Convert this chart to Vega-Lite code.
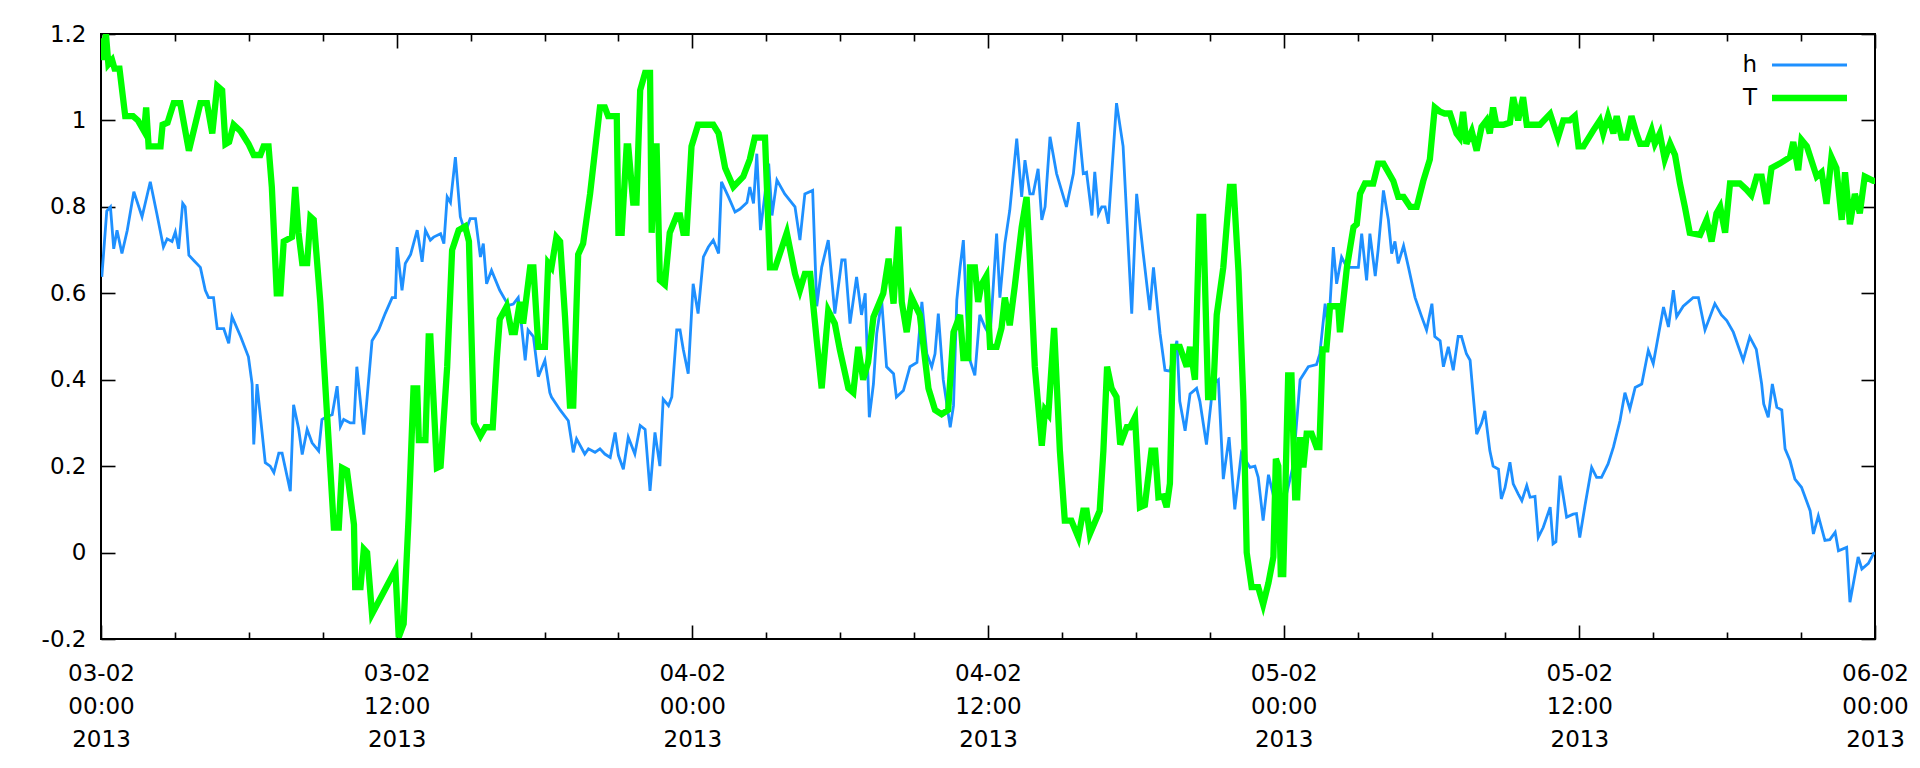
{
"$schema": "https://vega.github.io/schema/vega-lite/v6.json",
"width": 1774, "height": 605,
"autosize": {"type": "none"},
"padding": {"left": 101, "top": 34, "right": 45, "bottom": 129},
"background": "white",
"data": {"values": [
{"s":"h","t":"2013-02-03T00:02","v":0.638},{"s":"h","t":"2013-02-03T00:14","v":0.79},{"s":"h","t":"2013-02-03T00:23","v":0.80},{"s":"h","t":"2013-02-03T00:31","v":0.703},{"s":"h","t":"2013-02-03T00:39","v":0.746},{"s":"h","t":"2013-02-03T00:51","v":0.692},{"s":"h","t":"2013-02-03T01:04","v":0.746},{"s":"h","t":"2013-02-03T01:20","v":0.835},{"s":"h","t":"2013-02-03T01:40","v":0.777},{"s":"h","t":"2013-02-03T02:00","v":0.858},{"s":"h","t":"2013-02-03T02:16","v":0.784},{"s":"h","t":"2013-02-03T02:32","v":0.707},{"s":"h","t":"2013-02-03T02:41","v":0.726},{"s":"h","t":"2013-02-03T02:53","v":0.72},{"s":"h","t":"2013-02-03T03:01","v":0.742},{"s":"h","t":"2013-02-03T03:09","v":0.703},{"s":"h","t":"2013-02-03T03:19","v":0.808},{"s":"h","t":"2013-02-03T03:25","v":0.8},{"s":"h","t":"2013-02-03T03:34","v":0.688},{"s":"h","t":"2013-02-03T03:46","v":0.676},{"s":"h","t":"2013-02-03T04:02","v":0.66},{"s":"h","t":"2013-02-03T04:14","v":0.607},{"s":"h","t":"2013-02-03T04:22","v":0.59},{"s":"h","t":"2013-02-03T04:34","v":0.59},{"s":"h","t":"2013-02-03T04:43","v":0.518},{"s":"h","t":"2013-02-03T04:59","v":0.518},{"s":"h","t":"2013-02-03T05:11","v":0.484},{"s":"h","t":"2013-02-03T05:19","v":0.546},{"s":"h","t":"2013-02-03T05:40","v":0.5},{"s":"h","t":"2013-02-03T05:59","v":0.453},{"s":"h","t":"2013-02-03T06:08","v":0.39},{"s":"h","t":"2013-02-03T06:12","v":0.25},{"s":"h","t":"2013-02-03T06:20","v":0.39},{"s":"h","t":"2013-02-03T06:26","v":0.335},{"s":"h","t":"2013-02-03T06:40","v":0.208},{"s":"h","t":"2013-02-03T06:52","v":0.2},{"s":"h","t":"2013-02-03T07:01","v":0.185},{"s":"h","t":"2013-02-03T07:13","v":0.23},{"s":"h","t":"2013-02-03T07:21","v":0.23},{"s":"h","t":"2013-02-03T07:41","v":0.142},{"s":"h","t":"2013-02-03T07:49","v":0.342},{"s":"h","t":"2013-02-03T08:01","v":0.288},{"s":"h","t":"2013-02-03T08:10","v":0.227},{"s":"h","t":"2013-02-03T08:22","v":0.285},{"s":"h","t":"2013-02-03T08:34","v":0.254},{"s":"h","t":"2013-02-03T08:50","v":0.235},{"s":"h","t":"2013-02-03T08:58","v":0.308},{"s":"h","t":"2013-02-03T09:10","v":0.315},{"s":"h","t":"2013-02-03T09:23","v":0.319},{"s":"h","t":"2013-02-03T09:35","v":0.385},{"s":"h","t":"2013-02-03T09:43","v":0.292},{"s":"h","t":"2013-02-03T09:51","v":0.308},{"s":"h","t":"2013-02-03T10:07","v":0.3},{"s":"h","t":"2013-02-03T10:16","v":0.3},{"s":"h","t":"2013-02-03T10:23","v":0.43},{"s":"h","t":"2013-02-03T10:40","v":0.273},{"s":"h","t":"2013-02-03T10:48","v":0.358},{"s":"h","t":"2013-02-03T11:00","v":0.49},{"s":"h","t":"2013-02-03T11:16","v":0.515},{"s":"h","t":"2013-02-03T11:32","v":0.553},{"s":"h","t":"2013-02-03T11:49","v":0.59},{"s":"h","t":"2013-02-03T11:57","v":0.59},{"s":"h","t":"2013-02-03T12:01","v":0.707},{"s":"h","t":"2013-02-03T12:13","v":0.607},{"s":"h","t":"2013-02-03T12:21","v":0.669},{"s":"h","t":"2013-02-03T12:34","v":0.69},{"s":"h","t":"2013-02-03T12:50","v":0.746},{"s":"h","t":"2013-02-03T13:02","v":0.673},{"s":"h","t":"2013-02-03T13:10","v":0.746},{"s":"h","t":"2013-02-03T13:22","v":0.723},{"s":"h","t":"2013-02-03T13:30","v":0.73},{"s":"h","t":"2013-02-03T13:47","v":0.738},{"s":"h","t":"2013-02-03T13:55","v":0.715},{"s":"h","t":"2013-02-03T14:03","v":0.823},{"s":"h","t":"2013-02-03T14:11","v":0.81},{"s":"h","t":"2013-02-03T14:23","v":0.915},{"s":"h","t":"2013-02-03T14:35","v":0.777},{"s":"h","t":"2013-02-03T14:47","v":0.74},{"s":"h","t":"2013-02-03T14:59","v":0.773},{"s":"h","t":"2013-02-03T15:12","v":0.773},{"s":"h","t":"2013-02-03T15:24","v":0.684},{"s":"h","t":"2013-02-03T15:31","v":0.715},{"s":"h","t":"2013-02-03T15:39","v":0.622},{"s":"h","t":"2013-02-03T15:51","v":0.653},{"s":"h","t":"2013-02-03T16:11","v":0.607},{"s":"h","t":"2013-02-03T16:32","v":0.572},{"s":"h","t":"2013-02-03T16:44","v":0.575},{"s":"h","t":"2013-02-03T16:56","v":0.59},{"s":"h","t":"2013-02-03T17:04","v":0.526},{"s":"h","t":"2013-02-03T17:13","v":0.445},{"s":"h","t":"2013-02-03T17:20","v":0.515},{"s":"h","t":"2013-02-03T17:33","v":0.5},{"s":"h","t":"2013-02-03T17:45","v":0.407},{"s":"h","t":"2013-02-03T18:01","v":0.445},{"s":"h","t":"2013-02-03T18:13","v":0.37},{"s":"h","t":"2013-02-03T18:17","v":0.36},{"s":"h","t":"2013-02-03T18:38","v":0.33},{"s":"h","t":"2013-02-03T18:58","v":0.305},{"s":"h","t":"2013-02-03T19:10","v":0.232},{"s":"h","t":"2013-02-03T19:18","v":0.263},{"s":"h","t":"2013-02-03T19:38","v":0.228},{"s":"h","t":"2013-02-03T19:47","v":0.24},{"s":"h","t":"2013-02-03T20:03","v":0.232},{"s":"h","t":"2013-02-03T20:15","v":0.24},{"s":"h","t":"2013-02-03T20:27","v":0.228},{"s":"h","t":"2013-02-03T20:40","v":0.22},{"s":"h","t":"2013-02-03T20:52","v":0.278},{"s":"h","t":"2013-02-03T21:00","v":0.225},{"s":"h","t":"2013-02-03T21:12","v":0.193},{"s":"h","t":"2013-02-03T21:24","v":0.267},{"s":"h","t":"2013-02-03T21:40","v":0.228},{"s":"h","t":"2013-02-03T21:53","v":0.294},{"s":"h","t":"2013-02-03T22:05","v":0.285},{"s":"h","t":"2013-02-03T22:17","v":0.143},{"s":"h","t":"2013-02-03T22:29","v":0.278},{"s":"h","t":"2013-02-03T22:41","v":0.2},{"s":"h","t":"2013-02-03T22:49","v":0.355},{"s":"h","t":"2013-02-03T23:02","v":0.34},{"s":"h","t":"2013-02-03T23:10","v":0.36},{"s":"h","t":"2013-02-03T23:22","v":0.515},{"s":"h","t":"2013-02-03T23:30","v":0.515},{"s":"h","t":"2013-02-03T23:38","v":0.47},{"s":"h","t":"2013-02-03T23:50","v":0.414},
{"s":"h","t":"2013-02-04T00:02","v":0.622},{"s":"h","t":"2013-02-04T00:14","v":0.553},{"s":"h","t":"2013-02-04T00:27","v":0.684},{"s":"h","t":"2013-02-04T00:39","v":0.707},{"s":"h","t":"2013-02-04T00:51","v":0.723},{"s":"h","t":"2013-02-04T01:04","v":0.692},{"s":"h","t":"2013-02-04T01:11","v":0.858},{"s":"h","t":"2013-02-04T01:28","v":0.823},{"s":"h","t":"2013-02-04T01:44","v":0.788},{"s":"h","t":"2013-02-04T01:56","v":0.795},{"s":"h","t":"2013-02-04T02:13","v":0.81},{"s":"h","t":"2013-02-04T02:20","v":0.846},{"s":"h","t":"2013-02-04T02:29","v":0.808},{"s":"h","t":"2013-02-04T02:37","v":0.923},{"s":"h","t":"2013-02-04T02:46","v":0.746},{"s":"h","t":"2013-02-04T03:06","v":0.9},{"s":"h","t":"2013-02-04T03:14","v":0.78},{"s":"h","t":"2013-02-04T03:26","v":0.862},{"s":"h","t":"2013-02-04T03:45","v":0.83},{"s":"h","t":"2013-02-04T04:10","v":0.8},{"s":"h","t":"2013-02-04T04:22","v":0.723},{"s":"h","t":"2013-02-04T04:34","v":0.83},{"s":"h","t":"2013-02-04T04:53","v":0.838},{"s":"h","t":"2013-02-04T05:03","v":0.57},{"s":"h","t":"2013-02-04T05:15","v":0.66},{"s":"h","t":"2013-02-04T05:31","v":0.723},{"s":"h","t":"2013-02-04T05:47","v":0.553},{"s":"h","t":"2013-02-04T06:04","v":0.677},{"s":"h","t":"2013-02-04T06:12","v":0.677},{"s":"h","t":"2013-02-04T06:24","v":0.53},{"s":"h","t":"2013-02-04T06:40","v":0.638},{"s":"h","t":"2013-02-04T06:52","v":0.55},{"s":"h","t":"2013-02-04T07:01","v":0.6},{"s":"h","t":"2013-02-04T07:11","v":0.313},{"s":"h","t":"2013-02-04T07:21","v":0.39},{"s":"h","t":"2013-02-04T07:29","v":0.507},{"s":"h","t":"2013-02-04T07:41","v":0.584},{"s":"h","t":"2013-02-04T07:53","v":0.43},{"s":"h","t":"2013-02-04T08:10","v":0.414},{"s":"h","t":"2013-02-04T08:17","v":0.36},{"s":"h","t":"2013-02-04T08:34","v":0.375},{"s":"h","t":"2013-02-04T08:50","v":0.43},{"s":"h","t":"2013-02-04T09:07","v":0.44},{"s":"h","t":"2013-02-04T09:19","v":0.58},{"s":"h","t":"2013-02-04T09:31","v":0.46},{"s":"h","t":"2013-02-04T09:43","v":0.43},{"s":"h","t":"2013-02-04T09:51","v":0.46},{"s":"h","t":"2013-02-04T09:59","v":0.553},{"s":"h","t":"2013-02-04T10:11","v":0.4},{"s":"h","t":"2013-02-04T10:28","v":0.29},{"s":"h","t":"2013-02-04T10:36","v":0.34},{"s":"h","t":"2013-02-04T10:44","v":0.584},{"s":"h","t":"2013-02-04T10:52","v":0.66},{"s":"h","t":"2013-02-04T11:00","v":0.723},{"s":"h","t":"2013-02-04T11:08","v":0.55},{"s":"h","t":"2013-02-04T11:16","v":0.445},{"s":"h","t":"2013-02-04T11:28","v":0.41},{"s":"h","t":"2013-02-04T11:40","v":0.55},{"s":"h","t":"2013-02-04T11:52","v":0.523},{"s":"h","t":"2013-02-04T12:05","v":0.5},{"s":"h","t":"2013-02-04T12:21","v":0.738},{"s":"h","t":"2013-02-04T12:29","v":0.59},{"s":"h","t":"2013-02-04T12:41","v":0.715},{"s":"h","t":"2013-02-04T12:53","v":0.792},{"s":"h","t":"2013-02-04T13:10","v":0.958},{"s":"h","t":"2013-02-04T13:22","v":0.823},{"s":"h","t":"2013-02-04T13:30","v":0.908},{"s":"h","t":"2013-02-04T13:42","v":0.83},{"s":"h","t":"2013-02-04T13:50","v":0.83},{"s":"h","t":"2013-02-04T14:02","v":0.888},{"s":"h","t":"2013-02-04T14:11","v":0.77},{"s":"h","t":"2013-02-04T14:19","v":0.8},{"s":"h","t":"2013-02-04T14:31","v":0.962},{"s":"h","t":"2013-02-04T14:47","v":0.877},{"s":"h","t":"2013-02-04T15:11","v":0.8},{"s":"h","t":"2013-02-04T15:28","v":0.877},{"s":"h","t":"2013-02-04T15:40","v":0.996},{"s":"h","t":"2013-02-04T15:52","v":0.877},{"s":"h","t":"2013-02-04T16:00","v":0.88},{"s":"h","t":"2013-02-04T16:13","v":0.78},{"s":"h","t":"2013-02-04T16:20","v":0.881},{"s":"h","t":"2013-02-04T16:29","v":0.784},{"s":"h","t":"2013-02-04T16:37","v":0.8},{"s":"h","t":"2013-02-04T16:45","v":0.8},{"s":"h","t":"2013-02-04T16:53","v":0.761},{"s":"h","t":"2013-02-04T17:13","v":1.04},{"s":"h","t":"2013-02-04T17:29","v":0.94},{"s":"h","t":"2013-02-04T17:50","v":0.553},{"s":"h","t":"2013-02-04T18:02","v":0.83},{"s":"h","t":"2013-02-04T18:18","v":0.692},{"s":"h","t":"2013-02-04T18:34","v":0.561},{"s":"h","t":"2013-02-04T18:43","v":0.66},{"s":"h","t":"2013-02-04T18:59","v":0.507},{"s":"h","t":"2013-02-04T19:11","v":0.422},{"s":"h","t":"2013-02-04T19:23","v":0.42},{"s":"h","t":"2013-02-04T19:40","v":0.49},{"s":"h","t":"2013-02-04T19:47","v":0.35},{"s":"h","t":"2013-02-04T20:00","v":0.282},{"s":"h","t":"2013-02-04T20:12","v":0.367},{"s":"h","t":"2013-02-04T20:28","v":0.38},{"s":"h","t":"2013-02-04T20:36","v":0.35},{"s":"h","t":"2013-02-04T20:52","v":0.25},{"s":"h","t":"2013-02-04T21:08","v":0.39},{"s":"h","t":"2013-02-04T21:21","v":0.4},{"s":"h","t":"2013-02-04T21:33","v":0.17},{"s":"h","t":"2013-02-04T21:47","v":0.267},{"s":"h","t":"2013-02-04T22:01","v":0.1},{"s":"h","t":"2013-02-04T22:17","v":0.23},{"s":"h","t":"2013-02-04T22:38","v":0.197},{"s":"h","t":"2013-02-04T22:50","v":0.2},{"s":"h","t":"2013-02-04T22:58","v":0.174},{"s":"h","t":"2013-02-04T23:10","v":0.074},{"s":"h","t":"2013-02-04T23:23","v":0.18},{"s":"h","t":"2013-02-04T23:43","v":0.1},
{"s":"h","t":"2013-02-05T00:03","v":0.12},{"s":"h","t":"2013-02-05T00:23","v":0.2},{"s":"h","t":"2013-02-05T00:40","v":0.4},{"s":"h","t":"2013-02-05T01:00","v":0.43},{"s":"h","t":"2013-02-05T01:20","v":0.435},{"s":"h","t":"2013-02-05T01:28","v":0.46},{"s":"h","t":"2013-02-05T01:41","v":0.576},{"s":"h","t":"2013-02-05T01:49","v":0.51},{"s":"h","t":"2013-02-05T02:01","v":0.707},{"s":"h","t":"2013-02-05T02:09","v":0.622},{"s":"h","t":"2013-02-05T02:21","v":0.684},{"s":"h","t":"2013-02-05T02:34","v":0.66},{"s":"h","t":"2013-02-05T03:02","v":0.66},{"s":"h","t":"2013-02-05T03:10","v":0.738},{"s":"h","t":"2013-02-05T03:22","v":0.63},{"s":"h","t":"2013-02-05T03:30","v":0.738},{"s":"h","t":"2013-02-05T03:43","v":0.64},{"s":"h","t":"2013-02-05T03:50","v":0.7},{"s":"h","t":"2013-02-05T04:03","v":0.838},{"s":"h","t":"2013-02-05T04:15","v":0.77},{"s":"h","t":"2013-02-05T04:23","v":0.692},{"s":"h","t":"2013-02-05T04:31","v":0.72},{"s":"h","t":"2013-02-05T04:39","v":0.669},{"s":"h","t":"2013-02-05T04:52","v":0.71},{"s":"h","t":"2013-02-05T05:04","v":0.66},{"s":"h","t":"2013-02-05T05:20","v":0.59},{"s":"h","t":"2013-02-05T05:36","v":0.546},{"s":"h","t":"2013-02-05T05:48","v":0.515},{"s":"h","t":"2013-02-05T06:01","v":0.576},{"s":"h","t":"2013-02-05T06:08","v":0.5},{"s":"h","t":"2013-02-05T06:21","v":0.49},{"s":"h","t":"2013-02-05T06:29","v":0.43},{"s":"h","t":"2013-02-05T06:41","v":0.476},{"s":"h","t":"2013-02-05T06:53","v":0.422},{"s":"h","t":"2013-02-05T07:05","v":0.5},{"s":"h","t":"2013-02-05T07:13","v":0.5},{"s":"h","t":"2013-02-05T07:25","v":0.46},{"s":"h","t":"2013-02-05T07:34","v":0.445},{"s":"h","t":"2013-02-05T07:40","v":0.38},{"s":"h","t":"2013-02-05T07:50","v":0.274},{"s":"h","t":"2013-02-05T08:02","v":0.3},{"s":"h","t":"2013-02-05T08:10","v":0.328},{"s":"h","t":"2013-02-05T08:22","v":0.236},{"s":"h","t":"2013-02-05T08:30","v":0.2},{"s":"h","t":"2013-02-05T08:43","v":0.193},{"s":"h","t":"2013-02-05T08:50","v":0.124},{"s":"h","t":"2013-02-05T08:59","v":0.15},{"s":"h","t":"2013-02-05T09:11","v":0.209},{"s":"h","t":"2013-02-05T09:19","v":0.159},{"s":"h","t":"2013-02-05T09:31","v":0.136},{"s":"h","t":"2013-02-05T09:40","v":0.12},{"s":"h","t":"2013-02-05T09:52","v":0.155},{"s":"h","t":"2013-02-05T10:00","v":0.128},{"s":"h","t":"2013-02-05T10:12","v":0.13},{"s":"h","t":"2013-02-05T10:20","v":0.035},{"s":"h","t":"2013-02-05T10:32","v":0.058},{"s":"h","t":"2013-02-05T10:49","v":0.105},{"s":"h","t":"2013-02-05T10:56","v":0.02},{"s":"h","t":"2013-02-05T11:03","v":0.025},{"s":"h","t":"2013-02-05T11:13","v":0.178},{"s":"h","t":"2013-02-05T11:29","v":0.082},{"s":"h","t":"2013-02-05T11:45","v":0.089},{"s":"h","t":"2013-02-05T11:53","v":0.09},{"s":"h","t":"2013-02-05T12:01","v":0.035},{"s":"h","t":"2013-02-05T12:14","v":0.11},{"s":"h","t":"2013-02-05T12:30","v":0.197},{"s":"h","t":"2013-02-05T12:42","v":0.174},{"s":"h","t":"2013-02-05T12:54","v":0.174},{"s":"h","t":"2013-02-05T13:10","v":0.205},{"s":"h","t":"2013-02-05T13:23","v":0.244},{"s":"h","t":"2013-02-05T13:39","v":0.305},{"s":"h","t":"2013-02-05T13:51","v":0.37},{"s":"h","t":"2013-02-05T14:03","v":0.332},{"s":"h","t":"2013-02-05T14:16","v":0.382},{"s":"h","t":"2013-02-05T14:32","v":0.39},{"s":"h","t":"2013-02-05T14:48","v":0.468},{"s":"h","t":"2013-02-05T15:00","v":0.437},{"s":"h","t":"2013-02-05T15:12","v":0.5},{"s":"h","t":"2013-02-05T15:25","v":0.568},{"s":"h","t":"2013-02-05T15:37","v":0.522},{"s":"h","t":"2013-02-05T15:49","v":0.607},{"s":"h","t":"2013-02-05T15:57","v":0.546},{"s":"h","t":"2013-02-05T16:13","v":0.57},{"s":"h","t":"2013-02-05T16:37","v":0.59},{"s":"h","t":"2013-02-05T16:50","v":0.59},{"s":"h","t":"2013-02-05T17:06","v":0.515},{"s":"h","t":"2013-02-05T17:30","v":0.576},{"s":"h","t":"2013-02-05T17:46","v":0.55},{"s":"h","t":"2013-02-05T17:59","v":0.537},{"s":"h","t":"2013-02-05T18:15","v":0.51},{"s":"h","t":"2013-02-05T18:39","v":0.445},{"s":"h","t":"2013-02-05T18:55","v":0.499},{"s":"h","t":"2013-02-05T19:11","v":0.47},{"s":"h","t":"2013-02-05T19:24","v":0.39},{"s":"h","t":"2013-02-05T19:29","v":0.344},{"s":"h","t":"2013-02-05T19:40","v":0.313},{"s":"h","t":"2013-02-05T19:50","v":0.39},{"s":"h","t":"2013-02-05T20:01","v":0.336},{"s":"h","t":"2013-02-05T20:13","v":0.33},{"s":"h","t":"2013-02-05T20:21","v":0.24},{"s":"h","t":"2013-02-05T20:33","v":0.213},{"s":"h","t":"2013-02-05T20:45","v":0.17},{"s":"h","t":"2013-02-05T21:01","v":0.151},{"s":"h","t":"2013-02-05T21:22","v":0.097},{"s":"h","t":"2013-02-05T21:30","v":0.043},{"s":"h","t":"2013-02-05T21:42","v":0.085},{"s":"h","t":"2013-02-05T21:58","v":0.028},{"s":"h","t":"2013-02-05T22:10","v":0.03},{"s":"h","t":"2013-02-05T22:23","v":0.047},{"s":"h","t":"2013-02-05T22:31","v":0.004},{"s":"h","t":"2013-02-05T22:51","v":0.012},{"s":"h","t":"2013-02-05T22:59","v":-0.115},{"s":"h","t":"2013-02-05T23:19","v":-0.01},{"s":"h","t":"2013-02-05T23:28","v":-0.038},{"s":"h","t":"2013-02-05T23:44","v":-0.025},{"s":"h","t":"2013-02-05T23:56","v":-0.003},{"s":"h","t":"2013-02-06T00:00","v":0.0},
{"s":"T","t":"2013-02-03T00:00","v":1.19},{"s":"T","t":"2013-02-03T00:06","v":1.14},{"s":"T","t":"2013-02-03T00:12","v":1.2},{"s":"T","t":"2013-02-03T00:18","v":1.13},{"s":"T","t":"2013-02-03T00:27","v":1.14},{"s":"T","t":"2013-02-03T00:33","v":1.12},{"s":"T","t":"2013-02-03T00:45","v":1.12},{"s":"T","t":"2013-02-03T00:59","v":1.01},{"s":"T","t":"2013-02-03T01:18","v":1.01},{"s":"T","t":"2013-02-03T01:30","v":1.0},{"s":"T","t":"2013-02-03T01:45","v":0.975},{"s":"T","t":"2013-02-03T01:50","v":1.03},{"s":"T","t":"2013-02-03T01:56","v":0.94},{"s":"T","t":"2013-02-03T02:25","v":0.94},{"s":"T","t":"2013-02-03T02:30","v":0.99},{"s":"T","t":"2013-02-03T02:42","v":0.995},{"s":"T","t":"2013-02-03T02:57","v":1.04},{"s":"T","t":"2013-02-03T03:13","v":1.04},{"s":"T","t":"2013-02-03T03:34","v":0.93},{"s":"T","t":"2013-02-03T04:02","v":1.04},{"s":"T","t":"2013-02-03T04:18","v":1.04},{"s":"T","t":"2013-02-03T04:31","v":0.97},{"s":"T","t":"2013-02-03T04:43","v":1.08},{"s":"T","t":"2013-02-03T04:55","v":1.07},{"s":"T","t":"2013-02-03T05:03","v":0.945},{"s":"T","t":"2013-02-03T05:12","v":0.95},{"s":"T","t":"2013-02-03T05:23","v":0.99},{"s":"T","t":"2013-02-03T05:40","v":0.975},{"s":"T","t":"2013-02-03T05:59","v":0.946},{"s":"T","t":"2013-02-03T06:12","v":0.92},{"s":"T","t":"2013-02-03T06:28","v":0.92},{"s":"T","t":"2013-02-03T06:36","v":0.94},{"s":"T","t":"2013-02-03T06:48","v":0.94},{"s":"T","t":"2013-02-03T06:56","v":0.846},{"s":"T","t":"2013-02-03T07:08","v":0.6},{"s":"T","t":"2013-02-03T07:17","v":0.6},{"s":"T","t":"2013-02-03T07:25","v":0.72},{"s":"T","t":"2013-02-03T07:45","v":0.73},{"s":"T","t":"2013-02-03T07:53","v":0.846},{"s":"T","t":"2013-02-03T08:01","v":0.74},{"s":"T","t":"2013-02-03T08:10","v":0.67},{"s":"T","t":"2013-02-03T08:22","v":0.67},{"s":"T","t":"2013-02-03T08:30","v":0.777},{"s":"T","t":"2013-02-03T08:38","v":0.77},{"s":"T","t":"2013-02-03T08:54","v":0.58},{"s":"T","t":"2013-02-03T09:27","v":0.058},{"s":"T","t":"2013-02-03T09:39","v":0.058},{"s":"T","t":"2013-02-03T09:47","v":0.196},{"s":"T","t":"2013-02-03T09:59","v":0.19},{"s":"T","t":"2013-02-03T10:16","v":0.065},{"s":"T","t":"2013-02-03T10:19","v":-0.08},{"s":"T","t":"2013-02-03T10:32","v":-0.08},{"s":"T","t":"2013-02-03T10:40","v":0.008},{"s":"T","t":"2013-02-03T10:48","v":0.0},{"s":"T","t":"2013-02-03T11:00","v":-0.142},{"s":"T","t":"2013-02-03T11:57","v":-0.04},{"s":"T","t":"2013-02-03T12:05","v":-0.196},{"s":"T","t":"2013-02-03T12:17","v":-0.165},{"s":"T","t":"2013-02-03T12:29","v":0.08},{"s":"T","t":"2013-02-03T12:41","v":0.38},{"s":"T","t":"2013-02-03T12:50","v":0.38},{"s":"T","t":"2013-02-03T12:54","v":0.26},{"s":"T","t":"2013-02-03T13:10","v":0.26},{"s":"T","t":"2013-02-03T13:18","v":0.5},{"s":"T","t":"2013-02-03T13:22","v":0.5},{"s":"T","t":"2013-02-03T13:38","v":0.196},{"s":"T","t":"2013-02-03T13:47","v":0.2},{"s":"T","t":"2013-02-03T14:03","v":0.43},{"s":"T","t":"2013-02-03T14:15","v":0.7},{"s":"T","t":"2013-02-03T14:31","v":0.746},{"s":"T","t":"2013-02-03T14:47","v":0.755},{"s":"T","t":"2013-02-03T14:56","v":0.72},{"s":"T","t":"2013-02-03T15:08","v":0.3},{"s":"T","t":"2013-02-03T15:24","v":0.27},{"s":"T","t":"2013-02-03T15:36","v":0.29},{"s":"T","t":"2013-02-03T15:54","v":0.29},{"s":"T","t":"2013-02-03T16:04","v":0.45},{"s":"T","t":"2013-02-03T16:11","v":0.54},{"s":"T","t":"2013-02-03T16:28","v":0.57},{"s":"T","t":"2013-02-03T16:40","v":0.51},{"s":"T","t":"2013-02-03T16:48","v":0.51},{"s":"T","t":"2013-02-03T17:00","v":0.58},{"s":"T","t":"2013-02-03T17:08","v":0.53},{"s":"T","t":"2013-02-03T17:25","v":0.66},{"s":"T","t":"2013-02-03T17:33","v":0.66},{"s":"T","t":"2013-02-03T17:45","v":0.476},{"s":"T","t":"2013-02-03T18:01","v":0.476},{"s":"T","t":"2013-02-03T18:09","v":0.67},{"s":"T","t":"2013-02-03T18:17","v":0.66},{"s":"T","t":"2013-02-03T18:29","v":0.73},{"s":"T","t":"2013-02-03T18:38","v":0.72},{"s":"T","t":"2013-02-03T18:50","v":0.545},{"s":"T","t":"2013-02-03T19:02","v":0.34},{"s":"T","t":"2013-02-03T19:10","v":0.34},{"s":"T","t":"2013-02-03T19:22","v":0.69},{"s":"T","t":"2013-02-03T19:34","v":0.715},{"s":"T","t":"2013-02-03T19:51","v":0.83},{"s":"T","t":"2013-02-03T20:15","v":1.03},{"s":"T","t":"2013-02-03T20:27","v":1.03},{"s":"T","t":"2013-02-03T20:35","v":1.01},{"s":"T","t":"2013-02-03T20:56","v":1.01},{"s":"T","t":"2013-02-03T21:00","v":0.74},{"s":"T","t":"2013-02-03T21:08","v":0.74},{"s":"T","t":"2013-02-03T21:20","v":0.94},{"s":"T","t":"2013-02-03T21:24","v":0.94},{"s":"T","t":"2013-02-03T21:36","v":0.81},{"s":"T","t":"2013-02-03T21:44","v":0.81},{"s":"T","t":"2013-02-03T21:53","v":1.07},{"s":"T","t":"2013-02-03T22:05","v":1.11},{"s":"T","t":"2013-02-03T22:17","v":1.11},{"s":"T","t":"2013-02-03T22:21","v":0.74},{"s":"T","t":"2013-02-03T22:29","v":0.94},{"s":"T","t":"2013-02-03T22:33","v":0.94},{"s":"T","t":"2013-02-03T22:41","v":0.63},{"s":"T","t":"2013-02-03T22:53","v":0.62},{"s":"T","t":"2013-02-03T23:05","v":0.74},{"s":"T","t":"2013-02-03T23:22","v":0.78},{"s":"T","t":"2013-02-03T23:30","v":0.78},{"s":"T","t":"2013-02-03T23:38","v":0.74},{"s":"T","t":"2013-02-03T23:46","v":0.74},{"s":"T","t":"2013-02-03T23:58","v":0.94},
{"s":"T","t":"2013-02-04T00:14","v":0.99},{"s":"T","t":"2013-02-04T00:51","v":0.99},{"s":"T","t":"2013-02-04T01:04","v":0.97},{"s":"T","t":"2013-02-04T01:20","v":0.89},{"s":"T","t":"2013-02-04T01:40","v":0.846},{"s":"T","t":"2013-02-04T02:04","v":0.87},{"s":"T","t":"2013-02-04T02:20","v":0.91},{"s":"T","t":"2013-02-04T02:32","v":0.96},{"s":"T","t":"2013-02-04T02:57","v":0.96},{"s":"T","t":"2013-02-04T03:09","v":0.66},{"s":"T","t":"2013-02-04T03:22","v":0.66},{"s":"T","t":"2013-02-04T03:50","v":0.74},{"s":"T","t":"2013-02-04T04:10","v":0.645},{"s":"T","t":"2013-02-04T04:22","v":0.607},{"s":"T","t":"2013-02-04T04:34","v":0.645},{"s":"T","t":"2013-02-04T04:47","v":0.645},{"s":"T","t":"2013-02-04T05:03","v":0.49},{"s":"T","t":"2013-02-04T05:15","v":0.38},{"s":"T","t":"2013-02-04T05:31","v":0.56},{"s":"T","t":"2013-02-04T05:47","v":0.53},{"s":"T","t":"2013-02-04T05:59","v":0.47},{"s":"T","t":"2013-02-04T06:20","v":0.38},{"s":"T","t":"2013-02-04T06:32","v":0.37},{"s":"T","t":"2013-02-04T06:44","v":0.476},{"s":"T","t":"2013-02-04T06:56","v":0.4},{"s":"T","t":"2013-02-04T07:08","v":0.44},{"s":"T","t":"2013-02-04T07:21","v":0.545},{"s":"T","t":"2013-02-04T07:45","v":0.6},{"s":"T","t":"2013-02-04T07:58","v":0.68},{"s":"T","t":"2013-02-04T08:10","v":0.576},{"s":"T","t":"2013-02-04T08:22","v":0.754},{"s":"T","t":"2013-02-04T08:30","v":0.58},{"s":"T","t":"2013-02-04T08:42","v":0.51},{"s":"T","t":"2013-02-04T08:54","v":0.59},{"s":"T","t":"2013-02-04T09:14","v":0.55},{"s":"T","t":"2013-02-04T09:35","v":0.38},{"s":"T","t":"2013-02-04T09:51","v":0.33},{"s":"T","t":"2013-02-04T10:07","v":0.32},{"s":"T","t":"2013-02-04T10:23","v":0.33},{"s":"T","t":"2013-02-04T10:36","v":0.51},{"s":"T","t":"2013-02-04T10:52","v":0.55},{"s":"T","t":"2013-02-04T11:00","v":0.45},{"s":"T","t":"2013-02-04T11:12","v":0.45},{"s":"T","t":"2013-02-04T11:16","v":0.66},{"s":"T","t":"2013-02-04T11:28","v":0.66},{"s":"T","t":"2013-02-04T11:36","v":0.58},{"s":"T","t":"2013-02-04T11:44","v":0.62},{"s":"T","t":"2013-02-04T11:56","v":0.64},{"s":"T","t":"2013-02-04T12:05","v":0.476},{"s":"T","t":"2013-02-04T12:21","v":0.476},{"s":"T","t":"2013-02-04T12:33","v":0.52},{"s":"T","t":"2013-02-04T12:41","v":0.59},{"s":"T","t":"2013-02-04T12:53","v":0.526},{"s":"T","t":"2013-02-04T13:05","v":0.615},{"s":"T","t":"2013-02-04T13:22","v":0.753},{"s":"T","t":"2013-02-04T13:34","v":0.823},{"s":"T","t":"2013-02-04T13:42","v":0.68},{"s":"T","t":"2013-02-04T13:54","v":0.43},{"s":"T","t":"2013-02-04T14:11","v":0.247},{"s":"T","t":"2013-02-04T14:19","v":0.33},{"s":"T","t":"2013-02-04T14:27","v":0.32},{"s":"T","t":"2013-02-04T14:41","v":0.52},{"s":"T","t":"2013-02-04T14:55","v":0.236},{"s":"T","t":"2013-02-04T15:07","v":0.074},{"s":"T","t":"2013-02-04T15:23","v":0.074},{"s":"T","t":"2013-02-04T15:40","v":0.035},{"s":"T","t":"2013-02-04T15:52","v":0.097},{"s":"T","t":"2013-02-04T16:00","v":0.097},{"s":"T","t":"2013-02-04T16:08","v":0.043},{"s":"T","t":"2013-02-04T16:32","v":0.097},{"s":"T","t":"2013-02-04T16:41","v":0.236},{"s":"T","t":"2013-02-04T16:50","v":0.43},{"s":"T","t":"2013-02-04T17:01","v":0.38},{"s":"T","t":"2013-02-04T17:13","v":0.36},{"s":"T","t":"2013-02-04T17:22","v":0.25},{"s":"T","t":"2013-02-04T17:38","v":0.29},{"s":"T","t":"2013-02-04T17:46","v":0.29},{"s":"T","t":"2013-02-04T17:58","v":0.313},{"s":"T","t":"2013-02-04T18:10","v":0.105},{"s":"T","t":"2013-02-04T18:22","v":0.11},{"s":"T","t":"2013-02-04T18:38","v":0.236},{"s":"T","t":"2013-02-04T18:47","v":0.236},{"s":"T","t":"2013-02-04T18:55","v":0.128},{"s":"T","t":"2013-02-04T19:07","v":0.13},{"s":"T","t":"2013-02-04T19:15","v":0.105},{"s":"T","t":"2013-02-04T19:23","v":0.16},{"s":"T","t":"2013-02-04T19:31","v":0.476},{"s":"T","t":"2013-02-04T19:47","v":0.476},{"s":"T","t":"2013-02-04T20:04","v":0.43},{"s":"T","t":"2013-02-04T20:12","v":0.476},{"s":"T","t":"2013-02-04T20:24","v":0.4},{"s":"T","t":"2013-02-04T20:35","v":0.777},{"s":"T","t":"2013-02-04T20:44","v":0.777},{"s":"T","t":"2013-02-04T20:56","v":0.36},{"s":"T","t":"2013-02-04T21:08","v":0.36},{"s":"T","t":"2013-02-04T21:17","v":0.55},{"s":"T","t":"2013-02-04T21:33","v":0.66},{"s":"T","t":"2013-02-04T21:49","v":0.846},{"s":"T","t":"2013-02-04T21:58","v":0.846},{"s":"T","t":"2013-02-04T22:10","v":0.65},{"s":"T","t":"2013-02-04T22:22","v":0.35},{"s":"T","t":"2013-02-04T22:30","v":0.0},{"s":"T","t":"2013-02-04T22:42","v":-0.08},{"s":"T","t":"2013-02-04T22:58","v":-0.08},{"s":"T","t":"2013-02-04T23:10","v":-0.12},{"s":"T","t":"2013-02-04T23:23","v":-0.07},{"s":"T","t":"2013-02-04T23:35","v":-0.01},{"s":"T","t":"2013-02-04T23:41","v":0.217},{"s":"T","t":"2013-02-04T23:47","v":0.2},{"s":"T","t":"2013-02-04T23:53","v":-0.05},{"s":"T","t":"2013-02-04T23:59","v":-0.05},
{"s":"T","t":"2013-02-05T00:11","v":0.41},{"s":"T","t":"2013-02-05T00:19","v":0.41},{"s":"T","t":"2013-02-05T00:28","v":0.128},{"s":"T","t":"2013-02-05T00:33","v":0.128},{"s":"T","t":"2013-02-05T00:40","v":0.267},{"s":"T","t":"2013-02-05T00:48","v":0.197},{"s":"T","t":"2013-02-05T00:56","v":0.275},{"s":"T","t":"2013-02-05T01:08","v":0.275},{"s":"T","t":"2013-02-05T01:20","v":0.244},{"s":"T","t":"2013-02-05T01:27","v":0.244},{"s":"T","t":"2013-02-05T01:35","v":0.47},{"s":"T","t":"2013-02-05T01:44","v":0.47},{"s":"T","t":"2013-02-05T01:53","v":0.57},{"s":"T","t":"2013-02-05T02:13","v":0.57},{"s":"T","t":"2013-02-05T02:17","v":0.51},{"s":"T","t":"2013-02-05T02:34","v":0.66},{"s":"T","t":"2013-02-05T02:50","v":0.753},{"s":"T","t":"2013-02-05T02:58","v":0.76},{"s":"T","t":"2013-02-05T03:06","v":0.83},{"s":"T","t":"2013-02-05T03:18","v":0.854},{"s":"T","t":"2013-02-05T03:38","v":0.854},{"s":"T","t":"2013-02-05T03:50","v":0.9},{"s":"T","t":"2013-02-05T04:03","v":0.9},{"s":"T","t":"2013-02-05T04:27","v":0.86},{"s":"T","t":"2013-02-05T04:39","v":0.823},{"s":"T","t":"2013-02-05T04:52","v":0.823},{"s":"T","t":"2013-02-05T05:08","v":0.8},{"s":"T","t":"2013-02-05T05:24","v":0.8},{"s":"T","t":"2013-02-05T05:40","v":0.86},{"s":"T","t":"2013-02-05T05:56","v":0.91},{"s":"T","t":"2013-02-05T06:08","v":1.03},{"s":"T","t":"2013-02-05T06:21","v":1.02},{"s":"T","t":"2013-02-05T06:32","v":1.016},{"s":"T","t":"2013-02-05T06:45","v":1.016},{"s":"T","t":"2013-02-05T07:01","v":0.97},{"s":"T","t":"2013-02-05T07:09","v":0.96},{"s":"T","t":"2013-02-05T07:17","v":1.02},{"s":"T","t":"2013-02-05T07:25","v":0.946},{"s":"T","t":"2013-02-05T07:38","v":0.975},{"s":"T","t":"2013-02-05T07:50","v":0.93},{"s":"T","t":"2013-02-05T08:02","v":0.985},{"s":"T","t":"2013-02-05T08:14","v":1.0},{"s":"T","t":"2013-02-05T08:22","v":0.97},{"s":"T","t":"2013-02-05T08:30","v":1.03},{"s":"T","t":"2013-02-05T08:38","v":0.99},{"s":"T","t":"2013-02-05T08:55","v":0.99},{"s":"T","t":"2013-02-05T09:11","v":0.995},{"s":"T","t":"2013-02-05T09:19","v":1.054},{"s":"T","t":"2013-02-05T09:31","v":1.0},{"s":"T","t":"2013-02-05T09:43","v":1.054},{"s":"T","t":"2013-02-05T09:52","v":0.99},{"s":"T","t":"2013-02-05T10:24","v":0.99},{"s":"T","t":"2013-02-05T10:49","v":1.015},{"s":"T","t":"2013-02-05T11:08","v":0.96},{"s":"T","t":"2013-02-05T11:21","v":1.0},{"s":"T","t":"2013-02-05T11:37","v":1.0},{"s":"T","t":"2013-02-05T11:49","v":1.01},{"s":"T","t":"2013-02-05T11:58","v":0.94},{"s":"T","t":"2013-02-05T12:10","v":0.94},{"s":"T","t":"2013-02-05T12:34","v":0.977},{"s":"T","t":"2013-02-05T12:50","v":1.0},{"s":"T","t":"2013-02-05T12:58","v":0.97},{"s":"T","t":"2013-02-05T13:10","v":1.01},{"s":"T","t":"2013-02-05T13:23","v":0.97},{"s":"T","t":"2013-02-05T13:31","v":1.01},{"s":"T","t":"2013-02-05T13:43","v":0.96},{"s":"T","t":"2013-02-05T13:55","v":0.96},{"s":"T","t":"2013-02-05T14:07","v":1.01},{"s":"T","t":"2013-02-05T14:19","v":0.97},{"s":"T","t":"2013-02-05T14:28","v":0.946},{"s":"T","t":"2013-02-05T14:44","v":0.946},{"s":"T","t":"2013-02-05T14:56","v":0.977},{"s":"T","t":"2013-02-05T15:04","v":0.946},{"s":"T","t":"2013-02-05T15:16","v":0.97},{"s":"T","t":"2013-02-05T15:28","v":0.91},{"s":"T","t":"2013-02-05T15:41","v":0.946},{"s":"T","t":"2013-02-05T15:53","v":0.92},{"s":"T","t":"2013-02-05T16:05","v":0.854},{"s":"T","t":"2013-02-05T16:17","v":0.8},{"s":"T","t":"2013-02-05T16:29","v":0.74},{"s":"T","t":"2013-02-05T16:54","v":0.735},{"s":"T","t":"2013-02-05T17:10","v":0.77},{"s":"T","t":"2013-02-05T17:22","v":0.72},{"s":"T","t":"2013-02-05T17:34","v":0.785},{"s":"T","t":"2013-02-05T17:43","v":0.8},{"s":"T","t":"2013-02-05T17:55","v":0.74},{"s":"T","t":"2013-02-05T18:07","v":0.854},{"s":"T","t":"2013-02-05T18:31","v":0.854},{"s":"T","t":"2013-02-05T18:47","v":0.84},{"s":"T","t":"2013-02-05T18:59","v":0.827},{"s":"T","t":"2013-02-05T19:12","v":0.87},{"s":"T","t":"2013-02-05T19:24","v":0.87},{"s":"T","t":"2013-02-05T19:36","v":0.807},{"s":"T","t":"2013-02-05T19:48","v":0.89},{"s":"T","t":"2013-02-05T20:08","v":0.9},{"s":"T","t":"2013-02-05T20:33","v":0.915},{"s":"T","t":"2013-02-05T20:41","v":0.95},{"s":"T","t":"2013-02-05T20:53","v":0.885},{"s":"T","t":"2013-02-05T21:01","v":0.955},{"s":"T","t":"2013-02-05T21:14","v":0.94},{"s":"T","t":"2013-02-05T21:38","v":0.87},{"s":"T","t":"2013-02-05T21:50","v":0.88},{"s":"T","t":"2013-02-05T22:02","v":0.807},{"s":"T","t":"2013-02-05T22:14","v":0.915},{"s":"T","t":"2013-02-05T22:26","v":0.89},{"s":"T","t":"2013-02-05T22:39","v":0.77},{"s":"T","t":"2013-02-05T22:47","v":0.88},{"s":"T","t":"2013-02-05T22:59","v":0.76},{"s":"T","t":"2013-02-05T23:11","v":0.83},{"s":"T","t":"2013-02-05T23:23","v":0.785},{"s":"T","t":"2013-02-05T23:35","v":0.87},{"s":"T","t":"2013-02-05T23:56","v":0.86},{"s":"T","t":"2013-02-06T00:00","v":0.86}
]},
"layer": [
{
"transform": [{"filter": "datum.s === 'h'"}],
"mark": {"type": "line", "clip": true},
"encoding": {
"x": {"field": "t", "type": "temporal",
 "scale": {"domain": [{"year":2013,"month":2,"date":3,"hours":0},{"year":2013,"month":2,"date":6,"hours":0}], "nice": false},
 "axis": {"orient": "bottom", "title": null, "domain": false, "grid": false,
  "values": [{"year":2013,"month":2,"date":3,"hours":0},{"year":2013,"month":2,"date":3,"hours":12},{"year":2013,"month":2,"date":4,"hours":0},{"year":2013,"month":2,"date":4,"hours":12},{"year":2013,"month":2,"date":5,"hours":0},{"year":2013,"month":2,"date":5,"hours":12},{"year":2013,"month":2,"date":6,"hours":0}],
  "labelExpr": "[timeFormat(datum.value, '%d-%m'), timeFormat(datum.value, '%H:%M'), timeFormat(datum.value, '%Y')]",
  "tickSize": -14, "labelPadding": 37.5, "labelLineHeight": 33, "labelAlign": "center", "labelBaseline": "top"}},
"y": {"field": "v", "type": "quantitative",
 "scale": {"domain": [-0.2, 1.2], "nice": false, "zero": false},
 "axis": {"orient": "left", "title": null, "domain": false, "grid": false,
  "values": [-0.2, 0, 0.2, 0.4, 0.6, 0.8, 1, 1.2],
  "labelExpr": "toString(datum.value)",
  "tickSize": -14, "labelPadding": 29}},
"color": {"field": "s", "type": "nominal", "scale": {"domain": ["h", "T"], "range": ["#1e90ff", "#00ff00"]}, "legend": {"title": null, "encode": {"entries": {"update": {"width": {"value": 100}, "height": {"value": 31}}}}}},
"strokeWidth": {"field": "s", "type": "ordinal", "scale": {"domain": ["h", "T"], "range": [2.8, 6.3]}, "legend": {"title": null, "encode": {"entries": {"update": {"width": {"value": 100}, "height": {"value": 31}}}}}}
}
},
{
"transform": [{"filter": "datum.s === 'T'"}],
"mark": {"type": "line", "clip": true},
"encoding": {
"x": {"field": "t", "type": "temporal",
 "axis": {"orient": "bottom", "title": null, "domain": false, "grid": false, "labels": false,
  "values": [{"year":2013,"month":2,"date":3,"hours":3},{"year":2013,"month":2,"date":3,"hours":6},{"year":2013,"month":2,"date":3,"hours":9},{"year":2013,"month":2,"date":3,"hours":15},{"year":2013,"month":2,"date":3,"hours":18},{"year":2013,"month":2,"date":3,"hours":21},{"year":2013,"month":2,"date":4,"hours":3},{"year":2013,"month":2,"date":4,"hours":6},{"year":2013,"month":2,"date":4,"hours":9},{"year":2013,"month":2,"date":4,"hours":15},{"year":2013,"month":2,"date":4,"hours":18},{"year":2013,"month":2,"date":4,"hours":21},{"year":2013,"month":2,"date":5,"hours":3},{"year":2013,"month":2,"date":5,"hours":6},{"year":2013,"month":2,"date":5,"hours":9},{"year":2013,"month":2,"date":5,"hours":15},{"year":2013,"month":2,"date":5,"hours":18},{"year":2013,"month":2,"date":5,"hours":21}],
  "tickSize": -7}},
"y": {"field": "v", "type": "quantitative",
 "axis": {"orient": "right", "title": null, "domain": false, "grid": false, "labels": false,
  "values": [-0.2, 0, 0.2, 0.4, 0.6, 0.8, 1, 1.2], "tickSize": -14}},
"color": {"field": "s", "type": "nominal", "legend": {"title": null, "encode": {"entries": {"update": {"width": {"value": 100}, "height": {"value": 31}}}}}},
"strokeWidth": {"field": "s", "type": "ordinal", "legend": {"title": null, "encode": {"entries": {"update": {"width": {"value": 100}, "height": {"value": 31}}}}}}
}
},
{
"mark": {"type": "point", "opacity": 0},
"encoding": {
"x": {"field": "t", "type": "temporal",
 "axis": {"orient": "top", "title": null, "domain": false, "grid": false, "labels": false,
  "values": [{"year":2013,"month":2,"date":3,"hours":0},{"year":2013,"month":2,"date":3,"hours":12},{"year":2013,"month":2,"date":4,"hours":0},{"year":2013,"month":2,"date":4,"hours":12},{"year":2013,"month":2,"date":5,"hours":0},{"year":2013,"month":2,"date":5,"hours":12},{"year":2013,"month":2,"date":6,"hours":0}],
  "tickSize": -14}},
"y": {"field": "v", "type": "quantitative", "axis": null}
}
},
{
"mark": {"type": "point", "opacity": 0},
"encoding": {
"x": {"field": "t", "type": "temporal",
 "axis": {"orient": "top", "title": null, "domain": false, "grid": false, "labels": false,
  "values": [{"year":2013,"month":2,"date":3,"hours":3},{"year":2013,"month":2,"date":3,"hours":6},{"year":2013,"month":2,"date":3,"hours":9},{"year":2013,"month":2,"date":3,"hours":15},{"year":2013,"month":2,"date":3,"hours":18},{"year":2013,"month":2,"date":3,"hours":21},{"year":2013,"month":2,"date":4,"hours":3},{"year":2013,"month":2,"date":4,"hours":6},{"year":2013,"month":2,"date":4,"hours":9},{"year":2013,"month":2,"date":4,"hours":15},{"year":2013,"month":2,"date":4,"hours":18},{"year":2013,"month":2,"date":4,"hours":21},{"year":2013,"month":2,"date":5,"hours":3},{"year":2013,"month":2,"date":5,"hours":6},{"year":2013,"month":2,"date":5,"hours":9},{"year":2013,"month":2,"date":5,"hours":15},{"year":2013,"month":2,"date":5,"hours":18},{"year":2013,"month":2,"date":5,"hours":21}],
  "tickSize": -7}},
"y": {"field": "v", "type": "quantitative", "axis": null}
}
}
],
"resolve": {"axis": {"x": "independent", "y": "independent"}},
"config": {
"view": {"stroke": "black", "strokeWidth": 2},
"axis": {"labelFont": "DejaVu Sans", "labelFontSize": 23, "labelColor": "black", "tickColor": "black", "tickWidth": 1.6, "labelFlush": false, "labelOverlap": false, "labelBound": false},
"legend": {"orient": "none", "legendX": 1667.5, "legendY": 15.5, "direction": "vertical", "symbolType": "stroke", "symbolSize": 5625, "clipHeight": 31, "rowPadding": 2, "labelAlign": "right", "labelOffset": -93.5, "padding": 0, "labelFont": "DejaVu Sans", "labelFontSize": 23, "labelColor": "black", "symbolOpacity": 1}
}
}
